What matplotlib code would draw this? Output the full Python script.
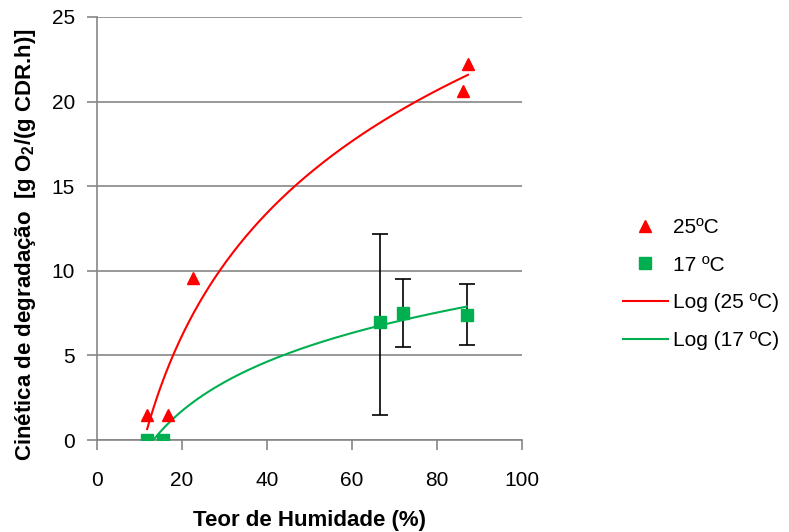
import numpy as np
import matplotlib
matplotlib.use("Agg")
import matplotlib.pyplot as plt

plt.rcParams['font.family'] = ['Liberation Sans', 'DejaVu Sans']
plt.rcParams['mathtext.fontset'] = 'custom'
plt.rcParams['mathtext.rm'] = 'Liberation Sans'
plt.rcParams['mathtext.bf'] = 'Liberation Sans:bold'
plt.rcParams['mathtext.default'] = 'bf'

# data
x25 = [11.8, 16.7, 22.6, 86.1, 87.3]
y25 = [1.5, 1.5, 9.6, 20.6, 22.2]

x17 = [11.8, 15.5, 66.6, 72.0, 87.0]
y17 = [0.0, 0.0, 7.0, 7.5, 7.4]
# error bars only on the last three points
err_x17 = [66.6, 72.0, 87.0]
err_y17 = [7.0, 7.5, 7.4]
err_low17 = [5.5, 2.0, 1.8]
err_high17 = [5.2, 2.0, 1.8]

red = '#FF0000'
green = '#00B050'
grey = '#868686'

fig = plt.figure(figsize=(7.89, 5.32), dpi=100)
ax = fig.add_axes([97 / 789, 92 / 532, 425 / 789, 423 / 532])

ax.errorbar(err_x17, err_y17, yerr=[err_low17, err_high17], fmt='none',
            ecolor='black', elinewidth=1.2, capsize=6, capthick=1.2, zorder=3)
ax.plot(x25, y25, linestyle='none', marker='^', color=red, markersize=8, label='25ºC', zorder=4)
ax.plot(x17, y17, linestyle='none', marker='s', color=green, markersize=8, label='17 ºC', zorder=4)

# logarithmic trendlines (least squares on ln x)
for xs, ys, col, lab in [(x25, y25, red, 'Log (25 ºC)'), (x17, y17, green, 'Log (17 ºC)')]:
    a, b = np.polyfit(np.log(xs), ys, 1)
    xx = np.linspace(min(xs), max(xs), 200)
    ax.plot(xx, a * np.log(xx) + b, color=col, linewidth=1.5, label=lab, zorder=3)

ax.set_xlim(0, 100)
ax.set_ylim(0, 25)
ax.set_xticks(range(0, 101, 20))
ax.set_yticks(range(0, 26, 5))
ax.yaxis.grid(True, color=grey, linewidth=1.2)
ax.set_axisbelow(True)
for s in ['top', 'right']:
    ax.spines[s].set_visible(False)
for s in ['left', 'bottom']:
    ax.spines[s].set_color(grey)
    ax.spines[s].set_linewidth(1.2)
ax.tick_params(colors=grey, labelcolor='black', labelsize=15, length=7, width=1.2, direction='out')
ax.tick_params(axis='y', pad=9)
ax.tick_params(axis='x', pad=15)

ax.set_xlabel('Teor de Humidade (%)', fontsize=16, fontweight='bold', labelpad=15)
ax.set_ylabel(r'Cinética de degradação  [g O$_2$/(g CDR.h)]', fontsize=16, fontweight='bold')
ax.yaxis.set_label_coords(-0.138, 0.462)

handles, labels = ax.get_legend_handles_labels()
order = [labels.index(l) for l in ['25ºC', '17 ºC', 'Log (25 ºC)', 'Log (17 ºC)']]
leg = fig.legend([handles[i] for i in order], [labels[i] for i in order],
                 loc='center left', bbox_to_anchor=(604 / 789, 1 - 284 / 532),
                 frameon=False, fontsize=15, handlelength=2.15, labelspacing=0.9,
                 handletextpad=0.25)

fig.savefig('out.png', dpi=100)
